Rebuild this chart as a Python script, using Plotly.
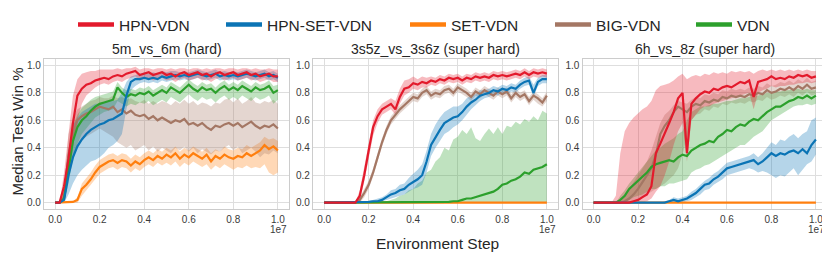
import numpy as np
import plotly.graph_objects as go

# ---------------- data (x in units of 1e7 environment steps) ----------------
steps = np.round(np.linspace(0, 1.0, 51), 2)

panel_titles = ["5m_vs_6m (hard)", "3s5z_vs_3s6z (super hard)", "6h_vs_8z (super hard)"]
series_names = ["HPN-VDN", "HPN-SET-VDN", "SET-VDN", "BIG-VDN", "VDN"]
y_ticks = [0.0, 0.2, 0.4, 0.6, 0.8, 1.0]
x_ticks = [0.0, 0.2, 0.4, 0.6, 0.8, 1.0]

# ---- panel 1 : 5m_vs_6m ----
p1_hpn_vdn = [0, 0, 0.12, 0.32, 0.58, 0.78, 0.83, 0.86, 0.87, 0.89,
              0.90, 0.91, 0.90, 0.92, 0.93, 0.92, 0.94, 0.95, 0.96, 0.93,
              0.94, 0.95, 0.93, 0.94, 0.95, 0.93, 0.94, 0.92, 0.94, 0.95,
              0.93, 0.94, 0.95, 0.93, 0.94, 0.92, 0.94, 0.95, 0.93, 0.94,
              0.95, 0.93, 0.94, 0.95, 0.93, 0.94, 0.92, 0.93, 0.94, 0.92,
              0.92]
p1_hpn_vdn_lo = [0, 0, 0.04, 0.18, 0.4, 0.6, 0.72, 0.78, 0.81, 0.84,
                 0.86, 0.87, 0.86, 0.88, 0.89, 0.88, 0.9, 0.91, 0.92, 0.89,
                 0.9, 0.91, 0.89, 0.9, 0.91, 0.89, 0.9, 0.88, 0.9, 0.91,
                 0.89, 0.9, 0.91, 0.89, 0.9, 0.88, 0.9, 0.91, 0.89, 0.9,
                 0.91, 0.89, 0.9, 0.91, 0.89, 0.9, 0.88, 0.89, 0.9, 0.88,
                 0.88]
p1_hpn_vdn_hi = [0, 0, 0.22, 0.5, 0.78, 0.9, 0.94, 0.95, 0.96, 0.96,
                 0.97, 0.97, 0.97, 0.97, 0.98, 0.97, 0.98, 0.98, 0.99, 0.97,
                 0.98, 0.98, 0.97, 0.98, 0.98, 0.97, 0.98, 0.97, 0.98, 0.98,
                 0.97, 0.98, 0.98, 0.97, 0.98, 0.97, 0.98, 0.98, 0.97, 0.98,
                 0.98, 0.97, 0.98, 0.98, 0.97, 0.98, 0.97, 0.97, 0.98, 0.97,
                 0.97]
p1_hpn_set = [0, 0, 0.02, 0.2, 0.33, 0.41, 0.46, 0.5, 0.53, 0.55,
              0.57, 0.58, 0.6, 0.61, 0.63, 0.65, 0.78, 0.88, 0.9, 0.9,
              0.91, 0.9, 0.91, 0.9, 0.92, 0.91, 0.92, 0.93, 0.92, 0.93,
              0.92, 0.93, 0.94, 0.93, 0.92, 0.93, 0.94, 0.92, 0.93, 0.92,
              0.93, 0.92, 0.93, 0.94, 0.93, 0.92, 0.93, 0.94, 0.92, 0.93,
              0.91]
p1_hpn_set_lo = [0, 0, 0, 0.06, 0.14, 0.2, 0.24, 0.27, 0.3, 0.31,
                 0.33, 0.36, 0.4, 0.42, 0.45, 0.5, 0.68, 0.82, 0.85, 0.87,
                 0.88, 0.87, 0.88, 0.87, 0.89, 0.88, 0.89, 0.9, 0.89, 0.9,
                 0.89, 0.9, 0.91, 0.9, 0.89, 0.9, 0.91, 0.89, 0.9, 0.89,
                 0.9, 0.89, 0.9, 0.91, 0.9, 0.89, 0.9, 0.91, 0.89, 0.9,
                 0.88]
p1_hpn_set_hi = [0, 0, 0.06, 0.38, 0.56, 0.62, 0.66, 0.68, 0.7, 0.72,
                 0.72, 0.73, 0.74, 0.74, 0.75, 0.8, 0.88, 0.92, 0.93, 0.94,
                 0.95, 0.94, 0.95, 0.94, 0.96, 0.95, 0.96, 0.96, 0.95, 0.96,
                 0.95, 0.96, 0.97, 0.96, 0.95, 0.96, 0.97, 0.95, 0.96, 0.95,
                 0.96, 0.95, 0.96, 0.97, 0.96, 0.95, 0.96, 0.97, 0.95, 0.96,
                 0.94]
p1_set = [0, 0, 0, 0, 0.005, 0.02, 0.1, 0.13, 0.17, 0.22,
          0.26, 0.28, 0.3, 0.31, 0.29, 0.31, 0.3, 0.27, 0.3, 0.28,
          0.31, 0.33, 0.31, 0.34, 0.32, 0.35, 0.33, 0.36, 0.32, 0.35,
          0.33, 0.36, 0.34, 0.32, 0.35, 0.3, 0.34, 0.32, 0.35, 0.33,
          0.32, 0.34, 0.33, 0.36, 0.34, 0.36, 0.38, 0.42, 0.39, 0.41,
          0.38]
p1_set_lo = [0, 0, 0, 0, 0, 0, 0.05, 0.09, 0.13, 0.17,
             0.21, 0.23, 0.25, 0.26, 0.24, 0.26, 0.25, 0.22, 0.25, 0.23,
             0.26, 0.28, 0.26, 0.29, 0.27, 0.29, 0.27, 0.3, 0.26, 0.29,
             0.27, 0.3, 0.28, 0.26, 0.28, 0.24, 0.27, 0.25, 0.28, 0.26,
             0.24, 0.26, 0.25, 0.27, 0.25, 0.26, 0.25, 0.28, 0.22, 0.2,
             0.22]
p1_set_hi = [0, 0, 0, 0, 0.01, 0.04, 0.14, 0.18, 0.22, 0.27,
             0.31, 0.33, 0.35, 0.36, 0.34, 0.36, 0.35, 0.32, 0.35, 0.33,
             0.36, 0.38, 0.36, 0.39, 0.37, 0.4, 0.38, 0.41, 0.37, 0.4,
             0.38, 0.41, 0.39, 0.37, 0.4, 0.36, 0.39, 0.37, 0.41, 0.39,
             0.38, 0.4, 0.39, 0.42, 0.4, 0.42, 0.44, 0.48, 0.46, 0.47,
             0.45]
p1_big = [0, 0, 0.04, 0.35, 0.5, 0.6, 0.63, 0.65, 0.66, 0.68,
          0.7, 0.69, 0.68, 0.7, 0.66, 0.68, 0.65, 0.67, 0.64, 0.63,
          0.64, 0.61, 0.63, 0.6, 0.62, 0.6, 0.58, 0.6, 0.59, 0.61,
          0.57, 0.58, 0.56, 0.58, 0.55, 0.53, 0.56, 0.55, 0.57, 0.58,
          0.56, 0.58, 0.55, 0.57, 0.59, 0.56, 0.54, 0.56, 0.55, 0.57,
          0.54]
p1_big_lo = [0, 0, 0, 0.18, 0.32, 0.42, 0.46, 0.48, 0.5, 0.52,
             0.54, 0.52, 0.5, 0.48, 0.44, 0.42, 0.4, 0.42, 0.38, 0.4,
             0.42, 0.38, 0.41, 0.37, 0.4, 0.38, 0.36, 0.4, 0.38, 0.41,
             0.37, 0.4, 0.36, 0.39, 0.37, 0.35, 0.38, 0.37, 0.4, 0.42,
             0.38, 0.41, 0.36, 0.38, 0.4, 0.37, 0.33, 0.36, 0.35, 0.38,
             0.36]
p1_big_hi = [0, 0, 0.1, 0.5, 0.62, 0.68, 0.7, 0.72, 0.74, 0.75,
             0.77, 0.76, 0.76, 0.78, 0.76, 0.77, 0.75, 0.76, 0.74, 0.73,
             0.75, 0.72, 0.74, 0.72, 0.74, 0.73, 0.71, 0.74, 0.72, 0.75,
             0.72, 0.74, 0.71, 0.73, 0.72, 0.7, 0.73, 0.72, 0.75, 0.76,
             0.73, 0.76, 0.72, 0.74, 0.77, 0.73, 0.72, 0.74, 0.73, 0.75,
             0.72]
p1_vdn = [0, 0, 0.03, 0.25, 0.45, 0.55, 0.6, 0.63, 0.67, 0.7,
          0.72, 0.73, 0.74, 0.75, 0.84, 0.8, 0.77, 0.79, 0.78, 0.8,
          0.79, 0.81, 0.78, 0.8, 0.82, 0.8, 0.84, 0.82, 0.8, 0.83,
          0.86, 0.83, 0.81, 0.84, 0.82, 0.83, 0.8, 0.83, 0.85, 0.82,
          0.84, 0.82, 0.85, 0.83, 0.81, 0.84, 0.82, 0.83, 0.85, 0.8,
          0.82]
p1_vdn_lo = [0, 0, 0, 0.14, 0.32, 0.43, 0.5, 0.54, 0.58, 0.62,
             0.64, 0.66, 0.67, 0.68, 0.74, 0.72, 0.7, 0.72, 0.71, 0.73,
             0.72, 0.74, 0.71, 0.73, 0.75, 0.73, 0.77, 0.75, 0.73, 0.76,
             0.79, 0.76, 0.74, 0.77, 0.75, 0.76, 0.73, 0.76, 0.78, 0.75,
             0.77, 0.75, 0.78, 0.76, 0.74, 0.77, 0.75, 0.76, 0.78, 0.72,
             0.75]
p1_vdn_hi = [0, 0, 0.08, 0.38, 0.56, 0.64, 0.69, 0.72, 0.75, 0.77,
             0.78, 0.79, 0.8, 0.81, 0.88, 0.84, 0.82, 0.83, 0.82, 0.84,
             0.83, 0.85, 0.82, 0.84, 0.86, 0.84, 0.88, 0.86, 0.84, 0.87,
             0.9, 0.87, 0.85, 0.88, 0.86, 0.87, 0.84, 0.87, 0.89, 0.86,
             0.88, 0.86, 0.89, 0.87, 0.85, 0.88, 0.86, 0.87, 0.89, 0.85,
             0.86]

# ---- panel 2 : 3s5z_vs_3s6z ----
p2_hpn_vdn = [0, 0, 0, 0, 0, 0, 0, 0, 0.05, 0.2,
              0.38, 0.55, 0.63, 0.68, 0.7, 0.72, 0.68, 0.77, 0.83, 0.84,
              0.87, 0.86, 0.88, 0.87, 0.89, 0.88, 0.9, 0.89, 0.91, 0.9,
              0.91, 0.89, 0.91, 0.9, 0.92, 0.91, 0.92, 0.91, 0.93, 0.92,
              0.93, 0.92, 0.93, 0.94, 0.93, 0.95, 0.93, 0.95, 0.94, 0.95,
              0.94]
p2_hpn_vdn_lo = [0, 0, 0, 0, 0, 0, 0, 0, 0.02, 0.15,
                 0.32, 0.49, 0.58, 0.64, 0.66, 0.68, 0.64, 0.72, 0.78, 0.8,
                 0.83, 0.82, 0.84, 0.84, 0.86, 0.85, 0.87, 0.86, 0.88, 0.87,
                 0.88, 0.86, 0.88, 0.87, 0.89, 0.88, 0.89, 0.88, 0.9, 0.89,
                 0.9, 0.89, 0.9, 0.91, 0.9, 0.92, 0.9, 0.92, 0.91, 0.92,
                 0.91]
p2_hpn_vdn_hi = [0, 0, 0, 0, 0, 0, 0, 0, 0.09, 0.26,
                 0.44, 0.6, 0.68, 0.72, 0.74, 0.76, 0.74, 0.83, 0.89, 0.9,
                 0.92, 0.9, 0.92, 0.91, 0.92, 0.91, 0.93, 0.92, 0.94, 0.93,
                 0.94, 0.92, 0.94, 0.93, 0.95, 0.94, 0.95, 0.94, 0.96, 0.95,
                 0.96, 0.95, 0.96, 0.97, 0.96, 0.98, 0.96, 0.98, 0.97, 0.98,
                 0.97]
p2_hpn_set = [0, 0, 0, 0, 0, 0, 0, 0, 0, 0,
              0.005, 0.01, 0.01, 0.02, 0.04, 0.06, 0.07, 0.09, 0.1, 0.13,
              0.15, 0.17, 0.2, 0.3, 0.42, 0.48, 0.53, 0.58, 0.6, 0.62,
              0.63, 0.66, 0.7, 0.73, 0.75, 0.78, 0.79, 0.8, 0.82, 0.81,
              0.83, 0.82, 0.84, 0.83, 0.86, 0.88, 0.89, 0.8, 0.88, 0.9,
              0.9]
p2_hpn_set_lo = [0, 0, 0, 0, 0, 0, 0, 0, 0, 0,
                 0, 0, 0, 0.01, 0.02, 0.03, 0.04, 0.05, 0.06, 0.08,
                 0.1, 0.11, 0.13, 0.22, 0.34, 0.4, 0.45, 0.5, 0.52, 0.55,
                 0.57, 0.6, 0.64, 0.68, 0.71, 0.74, 0.76, 0.77, 0.79, 0.78,
                 0.8, 0.79, 0.81, 0.8, 0.83, 0.85, 0.86, 0.77, 0.85, 0.87,
                 0.87]
p2_hpn_set_hi = [0, 0, 0, 0, 0, 0, 0, 0, 0, 0,
                 0.01, 0.02, 0.03, 0.04, 0.06, 0.09, 0.1, 0.13, 0.14, 0.18,
                 0.21, 0.24, 0.28, 0.38, 0.5, 0.57, 0.62, 0.66, 0.68, 0.7,
                 0.7, 0.72, 0.76, 0.78, 0.79, 0.82, 0.82, 0.83, 0.85, 0.84,
                 0.86, 0.85, 0.87, 0.86, 0.89, 0.91, 0.92, 0.86, 0.91, 0.93,
                 0.93]
p2_set = [0.0] * 51
p2_big = [0, 0, 0, 0, 0, 0, 0, 0, 0.02, 0.07,
          0.13, 0.22, 0.33, 0.44, 0.53, 0.6, 0.64, 0.68, 0.71, 0.74,
          0.77, 0.76, 0.8, 0.82, 0.78, 0.8, 0.79, 0.82, 0.83, 0.8,
          0.84, 0.82, 0.8, 0.77, 0.81, 0.79, 0.82, 0.8, 0.78, 0.81,
          0.79, 0.81, 0.76, 0.8, 0.77, 0.79, 0.74, 0.78, 0.76, 0.73,
          0.78]
p2_big_lo = [0, 0, 0, 0, 0, 0, 0, 0, 0, 0.04,
             0.1, 0.19, 0.3, 0.41, 0.5, 0.57, 0.61, 0.65, 0.68, 0.71,
             0.74, 0.73, 0.77, 0.79, 0.75, 0.77, 0.76, 0.79, 0.8, 0.77,
             0.81, 0.79, 0.77, 0.74, 0.78, 0.76, 0.79, 0.77, 0.75, 0.78,
             0.76, 0.78, 0.73, 0.77, 0.74, 0.76, 0.71, 0.75, 0.72, 0.7,
             0.74]
p2_big_hi = [0, 0, 0, 0, 0, 0, 0, 0, 0.04, 0.1,
             0.16, 0.25, 0.36, 0.47, 0.56, 0.63, 0.67, 0.71, 0.74, 0.77,
             0.8, 0.79, 0.83, 0.85, 0.81, 0.83, 0.82, 0.85, 0.86, 0.83,
             0.87, 0.85, 0.83, 0.8, 0.84, 0.82, 0.85, 0.83, 0.81, 0.84,
             0.82, 0.84, 0.79, 0.83, 0.8, 0.82, 0.77, 0.81, 0.79, 0.76,
             0.81]
p2_vdn = [0, 0, 0, 0, 0, 0, 0, 0, 0, 0,
          0, 0, 0, 0, 0, 0, 0, 0, 0, 0,
          0, 0, 0, 0, 0, 0, 0, 0, 0.005, 0.01,
          0.01, 0.02, 0.03, 0.03, 0.04, 0.05, 0.06, 0.07, 0.08, 0.1,
          0.13, 0.14, 0.16, 0.17, 0.19, 0.22, 0.21, 0.24, 0.25, 0.26,
          0.28]
p2_vdn_lo = [0.0] * 51
p2_vdn_hi = [0, 0, 0, 0, 0, 0, 0, 0, 0, 0,
             0, 0, 0, 0, 0.01, 0.02, 0.03, 0.05, 0.06, 0.09,
             0.1, 0.14, 0.16, 0.22, 0.24, 0.3, 0.33, 0.4, 0.38, 0.46,
             0.48, 0.53, 0.5, 0.55, 0.47, 0.45, 0.5, 0.54, 0.5, 0.55,
             0.5, 0.56, 0.55, 0.59, 0.57, 0.61, 0.59, 0.63, 0.6, 0.67,
             0.65]

# ---- panel 3 : 6h_vs_8z ----
p3_hpn_vdn = [0, 0, 0, 0, 0, 0, 0, 0, 0, 0.01,
              0.02, 0.04, 0.06, 0.12, 0.36, 0.43, 0.5, 0.58, 0.66, 0.76,
              0.8, 0.36, 0.72, 0.76, 0.79, 0.81, 0.8, 0.83, 0.82, 0.84,
              0.85, 0.84, 0.86, 0.88, 0.87, 0.89, 0.77, 0.88, 0.89, 0.9,
              0.92, 0.9, 0.91, 0.9, 0.92, 0.91, 0.93, 0.92, 0.93, 0.91,
              0.92]
p3_hpn_vdn_lo = [0, 0, 0, 0, 0, 0, 0, 0, 0, 0,
                 0, 0, 0.01, 0.03, 0.08, 0.12, 0.2, 0.3, 0.42, 0.52,
                 0.58, 0.3, 0.6, 0.64, 0.68, 0.7, 0.7, 0.72, 0.73, 0.74,
                 0.75, 0.76, 0.77, 0.78, 0.79, 0.8, 0.68, 0.8, 0.82, 0.83,
                 0.85, 0.84, 0.85, 0.85, 0.86, 0.86, 0.87, 0.87, 0.88, 0.87,
                 0.88]
p3_hpn_vdn_hi = [0, 0, 0, 0, 0, 0.05, 0.36, 0.52, 0.58, 0.62,
                 0.65, 0.68, 0.7, 0.74, 0.82, 0.85, 0.86, 0.87, 0.89, 0.92,
                 0.94, 0.9, 0.92, 0.93, 0.92, 0.94, 0.93, 0.95, 0.94, 0.95,
                 0.94, 0.96, 0.95, 0.96, 0.95, 0.96, 0.94, 0.96, 0.97, 0.96,
                 0.97, 0.96, 0.97, 0.96, 0.97, 0.96, 0.97, 0.96, 0.97, 0.96,
                 0.96]
p3_hpn_set = [0, 0, 0, 0, 0, 0, 0, 0, 0, 0,
              0, 0, 0, 0, 0, 0, 0, 0.01, 0.02, 0.01,
              0.02, 0.03, 0.05, 0.07, 0.1, 0.13, 0.14, 0.17, 0.19, 0.22,
              0.25, 0.26, 0.27, 0.28, 0.29, 0.3, 0.31, 0.28, 0.3, 0.33,
              0.36, 0.34, 0.36, 0.35, 0.37, 0.38, 0.36, 0.39, 0.36, 0.42,
              0.46]
p3_hpn_set_lo = [0, 0, 0, 0, 0, 0, 0, 0, 0, 0,
                 0, 0, 0, 0, 0, 0, 0, 0, 0, 0,
                 0, 0.01, 0.02, 0.04, 0.06, 0.09, 0.1, 0.13, 0.15, 0.17,
                 0.2, 0.21, 0.22, 0.23, 0.24, 0.25, 0.24, 0.22, 0.23, 0.22,
                 0.2, 0.18, 0.2, 0.19, 0.22, 0.25, 0.2, 0.24, 0.28, 0.3,
                 0.35]
p3_hpn_set_hi = [0, 0, 0, 0, 0, 0, 0, 0, 0, 0,
                 0, 0, 0, 0, 0, 0, 0.01, 0.02, 0.04, 0.03,
                 0.04, 0.05, 0.08, 0.1, 0.13, 0.16, 0.18, 0.21, 0.23, 0.26,
                 0.29, 0.3, 0.31, 0.32, 0.33, 0.34, 0.36, 0.33, 0.36, 0.4,
                 0.44, 0.42, 0.46, 0.45, 0.48, 0.5, 0.47, 0.5, 0.52, 0.6,
                 0.62]
p3_set = [0.0] * 51
p3_big = [0, 0, 0, 0, 0, 0, 0, 0.01, 0.03, 0.06,
          0.1, 0.15, 0.2, 0.25, 0.35, 0.5, 0.56, 0.6, 0.66, 0.7,
          0.68, 0.66, 0.7, 0.72, 0.71, 0.74, 0.73, 0.75, 0.74, 0.77,
          0.76, 0.78, 0.77, 0.78, 0.77, 0.79, 0.78, 0.8, 0.79, 0.82,
          0.8, 0.81, 0.83, 0.82, 0.84, 0.82, 0.85, 0.83, 0.86, 0.83,
          0.84]
p3_big_lo = [0, 0, 0, 0, 0, 0, 0, 0, 0, 0,
             0.02, 0.04, 0.06, 0.08, 0.1, 0.12, 0.14, 0.17, 0.2, 0.25,
             0.35, 0.48, 0.6, 0.64, 0.65, 0.68, 0.67, 0.7, 0.69, 0.72,
             0.71, 0.73, 0.72, 0.73, 0.72, 0.74, 0.73, 0.75, 0.74, 0.77,
             0.75, 0.76, 0.78, 0.77, 0.79, 0.77, 0.8, 0.78, 0.81, 0.78,
             0.79]
p3_big_hi = [0, 0, 0, 0, 0, 0, 0.02, 0.05, 0.1, 0.15,
             0.2, 0.25, 0.3, 0.38, 0.48, 0.58, 0.64, 0.67, 0.71, 0.74,
             0.73, 0.72, 0.75, 0.77, 0.76, 0.79, 0.78, 0.8, 0.79, 0.82,
             0.81, 0.83, 0.82, 0.83, 0.82, 0.84, 0.83, 0.85, 0.84, 0.87,
             0.85, 0.86, 0.88, 0.87, 0.89, 0.87, 0.9, 0.88, 0.91, 0.88,
             0.89]
p3_vdn = [0, 0, 0, 0, 0, 0, 0.02, 0.05, 0.1, 0.13,
          0.16, 0.19, 0.22, 0.26, 0.28, 0.29, 0.3, 0.31, 0.3, 0.33,
          0.35, 0.34, 0.38, 0.4, 0.42, 0.43, 0.45, 0.44, 0.48, 0.5,
          0.53, 0.52, 0.55, 0.57, 0.56, 0.59, 0.61, 0.6, 0.63, 0.66,
          0.68, 0.7, 0.7, 0.72, 0.74, 0.75, 0.77, 0.76, 0.78, 0.76,
          0.78]
p3_vdn_lo = [0, 0, 0, 0, 0, 0, 0, 0, 0.02, 0.04,
             0.05, 0.06, 0.08, 0.1, 0.1, 0.12, 0.12, 0.14, 0.14, 0.15,
             0.16, 0.17, 0.22, 0.24, 0.25, 0.27, 0.28, 0.3, 0.32, 0.34,
             0.36, 0.38, 0.4, 0.42, 0.42, 0.45, 0.48, 0.5, 0.52, 0.56,
             0.6, 0.62, 0.64, 0.66, 0.68, 0.7, 0.71, 0.71, 0.72, 0.71,
             0.72]
p3_vdn_hi = [0, 0, 0, 0, 0, 0, 0.05, 0.09, 0.14, 0.18,
             0.22, 0.26, 0.3, 0.34, 0.38, 0.4, 0.43, 0.45, 0.47, 0.5,
             0.52, 0.6, 0.66, 0.68, 0.7, 0.7, 0.71, 0.72, 0.72, 0.73,
             0.74, 0.74, 0.75, 0.76, 0.76, 0.77, 0.78, 0.78, 0.79, 0.8,
             0.8, 0.81, 0.81, 0.82, 0.82, 0.83, 0.83, 0.82, 0.83, 0.82,
             0.82]

# ---------------- assembly ----------------
colors = {
    "HPN-VDN": "#e31a2c",
    "HPN-SET-VDN": "#0b74b5",
    "SET-VDN": "#ff7f0e",
    "BIG-VDN": "#a47764",
    "VDN": "#2ca02c",
}

def rgba(hexc, a):
    h = hexc.lstrip("#")
    return "rgba(%d,%d,%d,%.2f)" % (int(h[0:2], 16), int(h[2:4], 16), int(h[4:6], 16), a)

panels = [
    {
        "HPN-VDN": (p1_hpn_vdn, p1_hpn_vdn_lo, p1_hpn_vdn_hi),
        "HPN-SET-VDN": (p1_hpn_set, p1_hpn_set_lo, p1_hpn_set_hi),
        "SET-VDN": (p1_set, p1_set_lo, p1_set_hi),
        "BIG-VDN": (p1_big, p1_big_lo, p1_big_hi),
        "VDN": (p1_vdn, p1_vdn_lo, p1_vdn_hi),
    },
    {
        "HPN-VDN": (p2_hpn_vdn, p2_hpn_vdn_lo, p2_hpn_vdn_hi),
        "HPN-SET-VDN": (p2_hpn_set, p2_hpn_set_lo, p2_hpn_set_hi),
        "SET-VDN": (p2_set, None, None),
        "BIG-VDN": (p2_big, p2_big_lo, p2_big_hi),
        "VDN": (p2_vdn, p2_vdn_lo, p2_vdn_hi),
    },
    {
        "HPN-VDN": (p3_hpn_vdn, p3_hpn_vdn_lo, p3_hpn_vdn_hi),
        "HPN-SET-VDN": (p3_hpn_set, p3_hpn_set_lo, p3_hpn_set_hi),
        "SET-VDN": (p3_set, None, None),
        "BIG-VDN": (p3_big, p3_big_lo, p3_big_hi),
        "VDN": (p3_vdn, p3_vdn_lo, p3_vdn_hi),
    },
]

for p in panels:
    for k, (m, lo, hi) in p.items():
        for arr in (m, lo, hi):
            if arr is not None and len(arr) != len(steps):
                raise ValueError("length mismatch %s %d" % (k, len(arr)))

# The page body has an 8px margin, so the figure is 8px smaller and every
# page-pixel position below is converted with that offset.
OFF = 8
PAGE_W, PAGE_H = 830, 254
W, H = PAGE_W - OFF, PAGE_H - OFF

def px(xpage):
    return (xpage - OFF) / W

def py(ypage):
    return (PAGE_H - ypage) / H

FONT = "Liberation Sans, Arial, Helvetica, sans-serif"
TXT = "#262626"
TICK = "#3a3a3a"

fig = go.Figure()
x_dom_px = [(44, 289), (313, 558), (582.5, 827)]
y_dom = [py(208), py(52)]

draw_order = ["SET-VDN", "BIG-VDN", "VDN", "HPN-SET-VDN", "HPN-VDN"]
xs = list(steps)
for i, p in enumerate(panels):
    ax = "" if i == 0 else str(i + 1)
    for name in draw_order:
        m, lo, hi = p[name]
        if lo is None:
            continue
        fig.add_trace(go.Scatter(
            x=xs + xs[::-1], y=list(hi) + list(lo)[::-1],
            fill="toself", fillcolor=rgba(colors[name], 0.3),
            line=dict(width=0), mode="lines", hoverinfo="skip",
            showlegend=False, xaxis="x" + ax, yaxis="y" + ax))
    for name in draw_order:
        m, lo, hi = p[name]
        fig.add_trace(go.Scatter(
            x=xs, y=m, mode="lines", line=dict(color=colors[name], width=2.2),
            showlegend=False, xaxis="x" + ax, yaxis="y" + ax))

# legend entries (one legend per item for exact placement); text-start page x
legend_text_px = [120, 268, 452, 597, 738]
ITEMW = 36
for j, name in enumerate(series_names):
    lg = "legend" if j == 0 else "legend%d" % (j + 1)
    fig.add_trace(go.Scatter(x=[None], y=[None], mode="lines", name=name,
                             line=dict(color=colors[name], width=4.5),
                             showlegend=True, legend=lg))

layout = dict(
    width=W, height=H, margin=dict(l=0, r=0, t=0, b=0),
    paper_bgcolor="white", plot_bgcolor="white",
    font=dict(family=FONT, color=TXT, size=10),
    annotations=[],
)
for j in range(5):
    lg = "legend" if j == 0 else "legend%d" % (j + 1)
    layout[lg] = dict(x=px(legend_text_px[j] - 41 - (ITEMW - 30)), y=py(17),
                      xanchor="left", yanchor="middle", itemwidth=ITEMW,
                      orientation="h", font=dict(size=15.5, family=FONT, color=TXT),
                      bgcolor="rgba(0,0,0,0)", borderwidth=0)

for i in range(3):
    ax = "" if i == 0 else str(i + 1)
    x0, x1 = x_dom_px[i]
    layout["xaxis" + ax] = dict(
        domain=[px(x0), px(x1)], anchor="y" + ax, range=[-0.05, 1.05],
        tickvals=x_ticks, tickformat=".1f", showgrid=True, gridcolor="#dedede", gridwidth=1,
        zeroline=False, showline=True, linecolor="#cccccc", linewidth=1.3, mirror=True,
        ticks="", tickfont=dict(size=10, color=TICK))
    layout["yaxis" + ax] = dict(
        domain=list(y_dom), anchor="x" + ax, range=[-0.05, 1.05],
        tickvals=y_ticks, tickformat=".1f", showgrid=True, gridcolor="#dedede", gridwidth=1,
        zeroline=False, showline=True, linecolor="#cccccc", linewidth=1.3, mirror=True,
        ticks="", tickfont=dict(size=10, color=TICK))
    layout["annotations"].append(dict(
        text=panel_titles[i], x=px((x0 + x1) / 2), y=py(42), xref="paper", yref="paper",
        xanchor="center", yanchor="middle", showarrow=False, font=dict(size=14, color=TXT)))
    layout["annotations"].append(dict(
        text="1e7", x=1, y=py(229), xref="x%s domain" % ax, yref="paper",
        xanchor="right", yanchor="middle", showarrow=False, font=dict(size=10, color=TICK)))

layout["annotations"].append(dict(
    text="Median Test Win %", x=px(OFF), y=py(128), xref="paper", yref="paper",
    textangle=-90, xanchor="left", yanchor="middle", showarrow=False, borderpad=0,
    font=dict(size=15, color=TXT)))
layout["annotations"].append(dict(
    text="Environment Step", x=px(437), y=py(243), xref="paper", yref="paper",
    xanchor="center", yanchor="middle", showarrow=False, font=dict(size=15.5, color=TXT)))

fig.update_layout(**layout)
fig.write_html("out.html")
